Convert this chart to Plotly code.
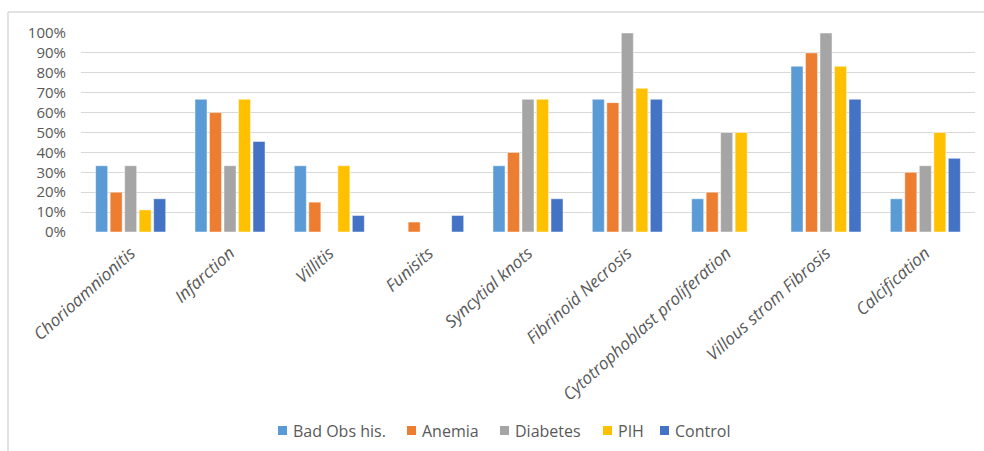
import plotly.graph_objects as go

categories = [
    "Chorioamnionitis", "Infarction", "Villitis", "Funisits", "Syncytial knots",
    "Fibrinoid Necrosis", "Cytotrophoblast proliferation", "Villous strom Fibrosis",
    "Calcification",
]

bad_obs_his = [0.333, 0.667, 0.333, 0.0, 0.333, 0.667, 0.167, 0.833, 0.167]
anemia = [0.20, 0.60, 0.15, 0.05, 0.40, 0.65, 0.20, 0.90, 0.30]
diabetes = [0.333, 0.333, 0.0, 0.0, 0.667, 1.0, 0.50, 1.0, 0.333]
pih = [0.111, 0.667, 0.333, 0.0, 0.667, 0.722, 0.50, 0.833, 0.50]
control = [0.167, 0.455, 0.083, 0.083, 0.167, 0.667, 0.0, 0.667, 0.37]

series_names = ["Bad Obs his.", "Anemia", "Diabetes", "PIH", "Control"]
series_values = [bad_obs_his, anemia, diabetes, pih, control]
series_colors = ["#5B9BD5", "#ED7D31", "#A5A5A5", "#FFC000", "#4472C4"]

y_ticks = [i / 10 for i in range(11)]
y_tick_labels = [f"{i * 10}%" for i in range(11)]

# left edge (px) of each legend swatch
legend_swatch_x = [278, 407, 500, 603, 660]

FONT = "Open Sans"
TEXT = "#595959"

fig = go.Figure()
for name, vals, col in zip(series_names, series_values, series_colors):
    fig.add_trace(go.Bar(
        x=categories, y=vals, name=name, showlegend=False,
        marker=dict(color=col, line=dict(color="rgba(255,255,255,0.6)", width=0.8)),
    ))

W, H = 984, 451
L, R, T, B = 81, 9, 33, 219
pw, ph = W - L - R, H - T - B

def px_x(p):
    return (p - L) / pw

def px_y(p):
    return (H - B - p) / ph

shapes = [
    dict(type="line", xref="paper", yref="paper",
         x0=px_x(8), x1=px_x(984), y0=px_y(12), y1=px_y(12),
         line=dict(color="#D9D9D9", width=1.5)),
    dict(type="line", xref="paper", yref="paper",
         x0=px_x(8), x1=px_x(8), y0=px_y(12), y1=px_y(451),
         line=dict(color="#D9D9D9", width=1.5)),
]
annotations = []

# legend row: coloured swatch followed by the series name
legend_cy = 430.5
sw = 9
for name, col, sx in zip(series_names, series_colors, legend_swatch_x):
    shapes.append(dict(
        type="rect", xref="paper", yref="paper",
        x0=px_x(sx), x1=px_x(sx + sw),
        y0=px_y(legend_cy + sw / 2), y1=px_y(legend_cy - sw / 2),
        fillcolor=col, line=dict(width=0),
    ))
    annotations.append(dict(
        xref="paper", yref="paper", x=px_x(sx + sw + 4), y=px_y(legend_cy),
        xanchor="left", yanchor="middle", showarrow=False, text=name,
        font=dict(family=FONT, size=16, color=TEXT),
    ))

fig.update_layout(
    width=W, height=H,
    margin=dict(l=L, r=R, t=T, b=B),
    paper_bgcolor="white", plot_bgcolor="white",
    barmode="group", bargap=0.27, bargroupgap=0.17,
    font=dict(family=FONT, color=TEXT, size=14),
    showlegend=False,
    xaxis=dict(
        tickangle=-42, showgrid=False, showline=False, ticks="",
        ticklabelstandoff=7,
        tickfont=dict(family=FONT, size=17, color=TEXT, style="italic"),
    ),
    yaxis=dict(
        range=[0, 1.0], tickvals=y_ticks, ticktext=y_tick_labels,
        showgrid=True, gridcolor="#D9D9D9", gridwidth=1, zeroline=False,
        showline=False, ticks="", ticklabelstandoff=14,
        tickfont=dict(family=FONT, size=15, color=TEXT),
    ),
    shapes=shapes,
    annotations=annotations,
)

fig.write_html("out.html")
